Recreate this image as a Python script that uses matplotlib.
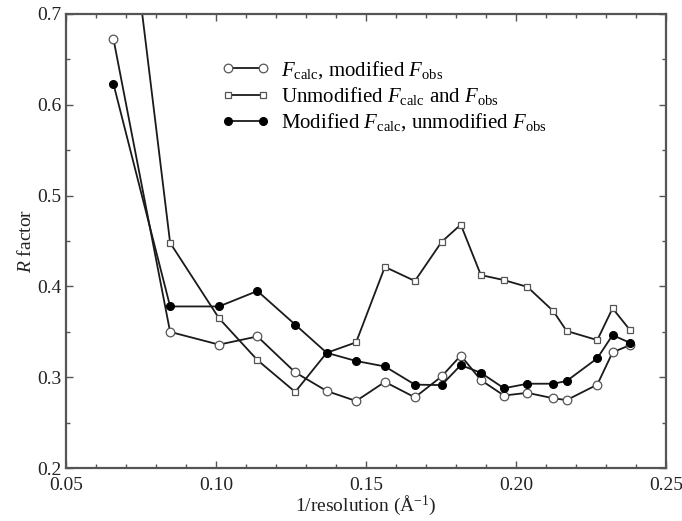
import matplotlib
matplotlib.use("Agg")
import matplotlib.pyplot as plt
from matplotlib.ticker import MultipleLocator, FormatStrFormatter

plt.rcParams['font.family'] = ['Liberation Serif', 'DejaVu Serif']
plt.rcParams['mathtext.fontset'] = 'custom'
plt.rcParams['mathtext.rm'] = 'Liberation Serif'
plt.rcParams['mathtext.it'] = 'Liberation Serif:italic'
plt.rcParams['mathtext.bf'] = 'Liberation Serif:bold'

inv_res = [0.0658, 0.0847, 0.1010, 0.1138, 0.1264, 0.1369, 0.1467, 0.1563,
           0.1663, 0.1752, 0.1816, 0.1883, 0.1960, 0.2038, 0.2124, 0.2169,
           0.2271, 0.2322, 0.2380]
r_calc_modobs = [0.6725, 0.350, 0.336, 0.345, 0.3055, 0.285, 0.274, 0.295,
                 0.278, 0.301, 0.324, 0.297, 0.280, 0.283, 0.277, 0.275,
                 0.292, 0.3275, 0.3355]
r_unmodified = [0.96, 0.448, 0.365, 0.319, 0.284, 0.327, 0.3385, 0.4215,
                0.406, 0.449, 0.468, 0.4125, 0.407, 0.3995, 0.373, 0.351,
                0.341, 0.376, 0.352]
r_modcalc_unmodobs = [0.623, 0.378, 0.378, 0.395, 0.358, 0.327, 0.318, 0.312,
                      0.292, 0.2915, 0.3135, 0.305, 0.288, 0.293, 0.293, 0.296,
                      0.321, 0.3465, 0.338]

labels = [r'$F_{\mathrm{calc}}$, modified $F_{\mathrm{obs}}$',
          r'Unmodified $F_{\mathrm{calc}}$ and $F_{\mathrm{obs}}$',
          r'Modified $F_{\mathrm{calc}}$, unmodified $F_{\mathrm{obs}}$']

fig = plt.figure(figsize=(6.82, 5.21), dpi=100)
ax = fig.add_axes([0.0968, 0.1012, 0.8797, 0.8725])

lw = 1.3
ax.plot(inv_res, r_unmodified, color='#1a1a1a', lw=lw, marker='s', ms=5,
        mfc='white', mec='#555555', mew=0.9, label=labels[1], zorder=2)
ax.plot(inv_res, r_calc_modobs, color='#1a1a1a', lw=lw, marker='o', ms=6.2,
        mfc='white', mec='#555555', mew=0.9, label=labels[0], zorder=3)
ax.plot(inv_res, r_modcalc_unmodobs, color='#1a1a1a', lw=lw, marker='o', ms=5.6,
        mfc='black', mec='black', mew=0.9, label=labels[2], zorder=4)

ax.set_xlim(0.05, 0.25)
ax.set_ylim(0.2, 0.7)
ax.xaxis.set_major_locator(MultipleLocator(0.05))
ax.xaxis.set_minor_locator(MultipleLocator(0.01))
ax.yaxis.set_major_locator(MultipleLocator(0.1))
ax.yaxis.set_minor_locator(MultipleLocator(0.05))
ax.xaxis.set_major_formatter(FormatStrFormatter('%.2f'))
ax.yaxis.set_major_formatter(FormatStrFormatter('%.1f'))

for s in ax.spines.values():
    s.set_color('#555555')
    s.set_linewidth(1.6)
ax.tick_params(which='both', direction='in', top=True, right=True,
               colors='#555555', labelcolor='#222222', labelsize=14)
ax.tick_params(which='major', length=5, width=1)
ax.tick_params(which='minor', length=3, width=1)
ax.tick_params(axis='x', pad=6)
ax.tick_params(axis='y', pad=3)

ax.set_xlabel(r'1/resolution (Å$^{-1}$)', fontsize=14, color='#222222', labelpad=0)
ax.set_ylabel(r'$R$ factor', fontsize=14, color='#222222', labelpad=2)

handles, labs = ax.get_legend_handles_labels()
order = [1, 0, 2]
leg = ax.legend([handles[i] for i in order], [labs[i] for i in order],
                loc='upper left', bbox_to_anchor=(0.245, 0.918), frameon=False,
                numpoints=2, handlelength=2.3, handletextpad=0.55,
                labelspacing=0.2, fontsize=15, borderaxespad=0)

fig.savefig('out.png', dpi=100)
